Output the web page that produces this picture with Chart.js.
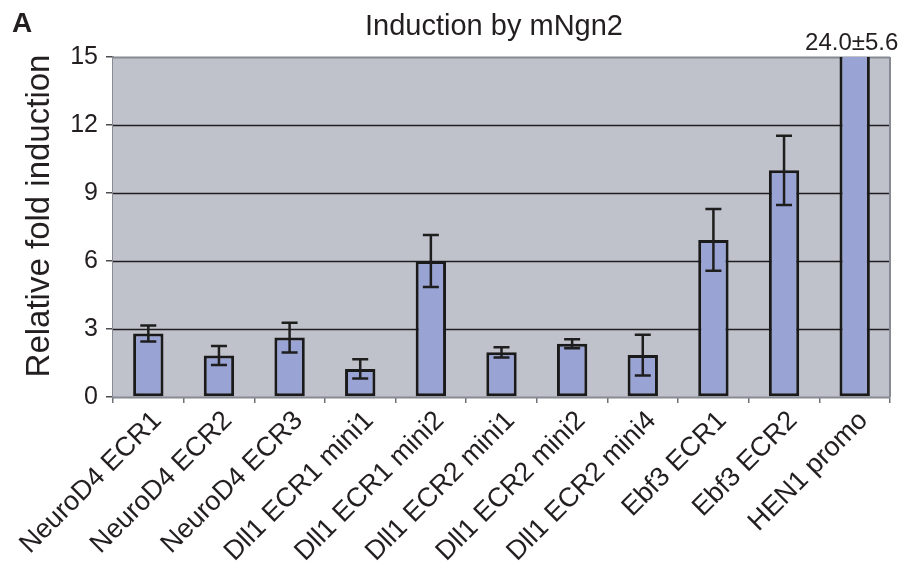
<!DOCTYPE html>
<html>
<head>
<meta charset="utf-8">
<script src="https://cdn.jsdelivr.net/npm/chart.js@4.4.0/dist/chart.umd.min.js"></script>
<style>
  html, body { margin: 0; padding: 0; background: #fff; }
  #wrap { width: 906px; height: 567px; }
</style>
</head>
<body>
<div id="wrap"><canvas id="inductionChart" width="906" height="567"></canvas></div>
<script>
// data
const constructs = [
    'NeuroD4 ECR1', 'NeuroD4 ECR2', 'NeuroD4 ECR3', 'Dll1 ECR1 mini1', 'Dll1 ECR1 mini2',
    'Dll1 ECR2 mini1', 'Dll1 ECR2 mini2', 'Dll1 ECR2 mini4', 'Ebf3 ECR1', 'Ebf3 ECR2', 'HEN1 promo'
];
const foldInduction = [2.8, 1.83, 2.62, 1.24, 6.0, 1.97, 2.35, 1.85, 6.93, 10.0, 24.0];
const foldError = [0.35, 0.42, 0.66, 0.42, 1.15, 0.23, 0.2, 0.9, 1.36, 1.53, 5.6];
const yTicks = [0, 3, 6, 9, 12, 15];

const FONT = '"Liberation Sans", Arial, Helvetica, sans-serif';
const TEXT = '#231f20';

// gray plot background + right border
const plotFrame = {
    id: 'plotFrame',
    beforeDatasetsDraw(chart) {
        const { ctx, chartArea: a } = chart;
        ctx.save();
        ctx.fillStyle = '#c0c2cb';
        ctx.fillRect(a.left, a.top, a.right - a.left, a.bottom - a.top);
        // horizontal grid over the fill
        const y = chart.scales.y;
        yTicks.forEach(v => {
            const py = Math.round(y.getPixelForValue(v)) + 0.5;
            ctx.beginPath();
            ctx.strokeStyle = (v === 0 || v === 15) ? '#868a92' : '#1e1e1e';
            ctx.lineWidth = (v === 0 || v === 15) ? 2 : 1.3;
            ctx.moveTo(a.left, py);
            ctx.lineTo(a.right, py);
            ctx.stroke();
        });
        ctx.restore();
    },
    afterDatasetsDraw(chart) {
        const { ctx, chartArea: a } = chart;
        ctx.save();
        ctx.strokeStyle = '#868a92';
        ctx.lineWidth = 2;
        ctx.beginPath();
        ctx.moveTo(a.right, a.top);
        ctx.lineTo(a.right, a.bottom);
        ctx.stroke();
        ctx.restore();
    }
};

// error bars + off-scale value label
const errorBars = {
    id: 'errorBars',
    afterDatasetsDraw(chart) {
        const { ctx, chartArea: a } = chart;
        const meta = chart.getDatasetMeta(0);
        const y = chart.scales.y;
        ctx.save();
        ctx.beginPath();
        ctx.rect(a.left, a.top, a.right - a.left, a.bottom - a.top);
        ctx.clip();
        ctx.strokeStyle = '#1e1e1e';
        ctx.lineWidth = 2.5;
        meta.data.forEach((bar, i) => {
            const hi = y.getPixelForValue(foldInduction[i] + foldError[i]);
            const lo = y.getPixelForValue(foldInduction[i] - foldError[i]);
            const cap = 8;
            ctx.beginPath();
            ctx.moveTo(bar.x, hi);
            ctx.lineTo(bar.x, lo);
            ctx.moveTo(bar.x - cap, hi);
            ctx.lineTo(bar.x + cap, hi);
            ctx.moveTo(bar.x - cap, lo);
            ctx.lineTo(bar.x + cap, lo);
            ctx.stroke();
        });
        ctx.restore();

        // labels for bars that run past the axis maximum
        ctx.save();
        ctx.fillStyle = TEXT;
        ctx.font = '24px ' + FONT;
        ctx.textAlign = 'center';
        ctx.textBaseline = 'alphabetic';
        meta.data.forEach((bar, i) => {
            if (foldInduction[i] > y.max) {
                ctx.fillText(foldInduction[i].toFixed(1) + '\u00B1' + foldError[i].toFixed(1), bar.x - 3, a.top - 7);
            }
        });
        ctx.restore();
    }
};

// panel letter, title, y axis title
const headings = {
    id: 'headings',
    afterDraw(chart) {
        const { ctx } = chart;
        ctx.save();
        ctx.fillStyle = TEXT;
        ctx.textBaseline = 'alphabetic';
        ctx.font = 'bold 28px ' + FONT;
        ctx.textAlign = 'left';
        ctx.fillText('A', 12, 32);
        ctx.font = '29px ' + FONT;
        ctx.textAlign = 'center';
        ctx.fillText('Induction by mNgn2', 494, 35);

        ctx.translate(40, 216);
        ctx.rotate(-Math.PI / 2);
        ctx.textBaseline = 'middle';
        ctx.font = '33px ' + FONT;
        ctx.fillText('Relative fold induction', 0, 0);
        ctx.restore();
    }
};

new Chart(document.getElementById('inductionChart').getContext('2d'), {
    type: 'bar',
    data: {
        labels: constructs,
        datasets: [{
            data: foldInduction,
            backgroundColor: '#99a4d4',
            borderColor: '#1a1a1a',
            borderWidth: 3,
            borderSkipped: false,
            categoryPercentage: 1,
            barPercentage: 0.43,
            clip: 0
        }]
    },
    options: {
        responsive: false,
        animation: false,
        layout: { padding: { top: 57, right: 16, left: 0, bottom: 0 } },
        plugins: {
            legend: { display: false },
            title: { display: false },
            tooltip: { enabled: false }
        },
        scales: {
            x: {
                grid: {
                    offset: true,
                    drawOnChartArea: false,
                    tickLength: 6,
                    tickColor: '#6e7178',
                    lineWidth: 1.5
                },
                border: { color: '#868a92', width: 2 },
                ticks: {
                    autoSkip: false,
                    minRotation: 45,
                    maxRotation: 45,
                    padding: 2,
                    labelOffset: 9,
                    color: TEXT,
                    font: { family: FONT, size: 27 }
                },
                afterFit(scale) { scale.height = 170; }
            },
            y: {
                min: 0,
                max: 15,
                afterBuildTicks(scale) { scale.ticks = yTicks.map(v => ({ value: v })); },
                grid: {
                    drawOnChartArea: false,
                    tickLength: 7,
                    tickColor: '#4a4c50',
                    lineWidth: 1.5
                },
                border: { color: '#868a92', width: 2 },
                ticks: {
                    padding: 8,
                    color: TEXT,
                    font: { family: FONT, size: 25 }
                },
                afterFit(scale) { scale.width = 113; }
            }
        }
    },
    plugins: [plotFrame, errorBars, headings]
});
</script>
</body>
</html>
